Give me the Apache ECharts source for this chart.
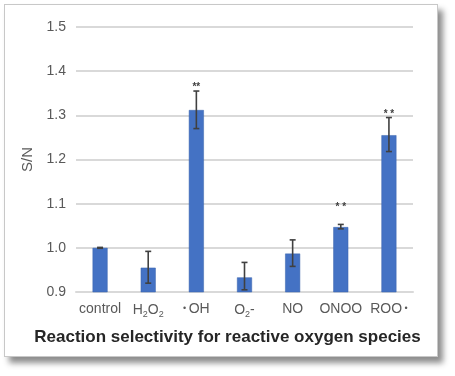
<!DOCTYPE html>
<html>
<head>
<meta charset="utf-8">
<script src="https://cdn.jsdelivr.net/npm/echarts@6/dist/echarts.min.js"></script>
<style>
  html, body { margin: 0; padding: 0; background: #fff; }
  #frame {
    position: absolute; left: 4px; top: 4px; width: 432px; height: 351px;
    border: 1px solid #c8c8c8; background: #fff;
    box-shadow: 5px 6px 6px rgba(0,0,0,0.45);
  }
  #chart { position: absolute; left: 0; top: 0; width: 455px; height: 376px; }
</style>
</head>
<body>
<div id="frame"></div>
<div id="chart"></div>
<script>
// categories as rich-text labels
const categories = ['control', 'H2O2', 'OH', 'O2-', 'NO', 'ONOO', 'ROO'];
const labelText = [
  '{a|control}',
  '{a|H}{s|2}{a|O}{s|2}',
  '{d|• }{a|OH}',
  '{a|O}{s|2}{a|-}',
  '{a|NO}',
  '{a|ONOO}',
  '{a|ROO}{d| •}'
];
const means = [1.000, 0.955, 1.312, 0.933, 0.987, 1.047, 1.255];
const errLow = [0.999, 0.920, 1.270, 0.905, 0.958, 1.043, 1.218];
const errHigh = [1.001, 0.992, 1.355, 0.967, 1.018, 1.053, 1.295];
// significance marks: [category index, value level, text]
const stars = [[2, 1.364, '**'], [5, 1.092, '* *'], [6, 1.303, '* *']];

const chart = echarts.init(document.getElementById('chart'));

const option = {
  backgroundColor: 'transparent',
  title: {
    text: 'Reaction selectivity for reactive oxygen species',
    left: 'center',
    top: 324,
    textStyle: { fontFamily: 'Liberation Sans', fontSize: 17, fontWeight: 'bold', color: '#262626' }
  },
  grid: { left: 76, right: 42, top: 27, bottom: 84 },
  xAxis: {
    type: 'category',
    data: categories,
    axisLine: { lineStyle: { color: '#d9d9d9', width: 2 } },
    axisTick: { show: false },
    axisLabel: {
      interval: 0,
      margin: 10,
      formatter: (v, i) => labelText[i],
      rich: {
        a: { fontFamily: 'Liberation Sans', fontSize: 14, color: '#595959' },
        d: { fontFamily: 'Liberation Sans', fontSize: 9, color: '#595959' },
        s: { fontFamily: 'Liberation Sans', fontSize: 9, color: '#595959', padding: [8, 0, 0, 0] }
      }
    }
  },
  yAxis: {
    type: 'value',
    min: 0.9,
    max: 1.5,
    interval: 0.1,
    name: 'S/N',
    nameLocation: 'middle',
    nameGap: 35,
    nameTextStyle: { fontFamily: 'Liberation Sans', fontSize: 15, color: '#595959' },
    axisLine: { show: false },
    axisTick: { show: false },
    axisLabel: {
      margin: 10,
      formatter: v => v.toFixed(1),
      fontFamily: 'Liberation Sans', fontSize: 14, color: '#595959'
    },
    splitLine: { lineStyle: { color: '#d9d9d9', width: 2 } }
  },
  series: [
    {
      type: 'bar',
      data: means,
      barWidth: 15,
      itemStyle: { color: '#4472c4', borderColor: '#3a64ad', borderWidth: 0.5 },
      z: 2
    },
    {
      type: 'custom',
      data: means.map((m, i) => [i, errLow[i], errHigh[i]]),
      z: 3,
      renderItem: function (params, api) {
        const lo = api.coord([api.value(0), api.value(1)]);
        const hi = api.coord([api.value(0), api.value(2)]);
        const cap = 3;
        const style = { stroke: '#404040', lineWidth: 1.6 };
        return {
          type: 'group',
          children: [
            { type: 'line', shape: { x1: lo[0], y1: lo[1], x2: hi[0], y2: hi[1] }, style },
            { type: 'line', shape: { x1: lo[0] - cap, y1: lo[1], x2: lo[0] + cap, y2: lo[1] }, style },
            { type: 'line', shape: { x1: hi[0] - cap, y1: hi[1], x2: hi[0] + cap, y2: hi[1] }, style }
          ]
        };
      }
    },
    {
      type: 'custom',
      data: stars,
      z: 4,
      renderItem: function (params, api) {
        const p = api.coord([api.value(0), api.value(1)]);
        return {
          type: 'text',
          style: {
            x: p[0], y: p[1],
            text: stars[params.dataIndex][2],
            align: 'center', verticalAlign: 'middle',
            fontFamily: 'Liberation Sans', fontSize: 10, fontWeight: 'bold', fill: '#404040'
          }
        };
      }
    }
  ]
};

chart.setOption(option);
</script>
</body>
</html>
